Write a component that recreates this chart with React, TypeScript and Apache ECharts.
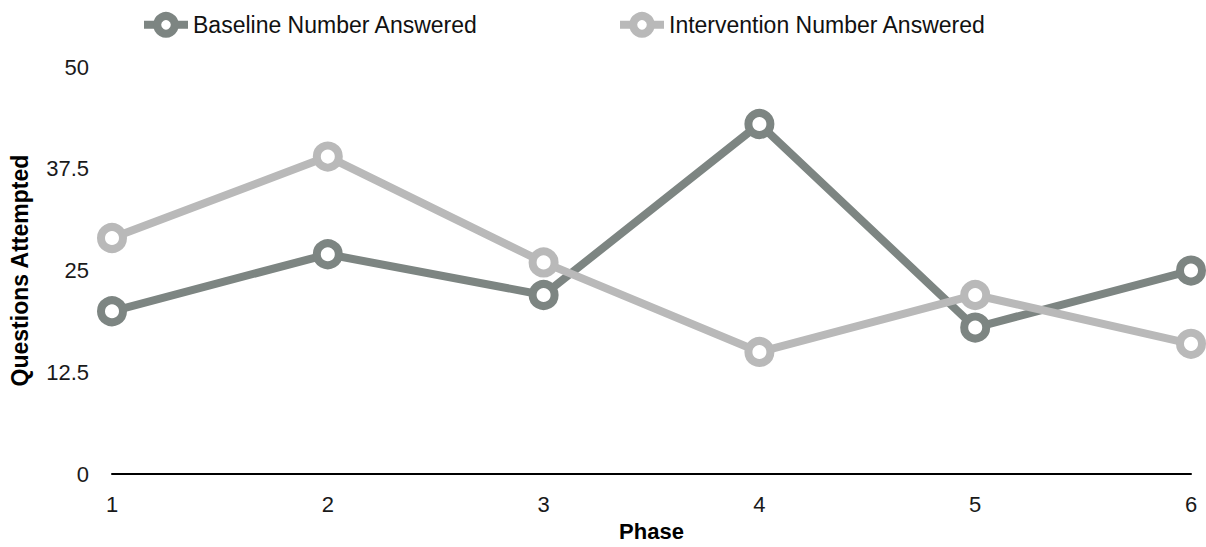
import React, { useEffect, useRef } from "react";
import * as echarts from "echarts";

const phases = ["1", "2", "3", "4", "5", "6"];
const baseline = [20, 27, 22, 43, 18, 25];
const intervention = [29, 39, 26, 15, 22, 16];
const seriesNames = ["Baseline Number Answered", "Intervention Number Answered"];
const colors = ["#7d8582", "#b9b9b9"];

export default function App() {
  const ref = useRef<HTMLDivElement>(null);
  useEffect(() => {
    if (!ref.current) return;
    const chart = echarts.init(ref.current, undefined, { renderer: "svg" });
    const font = "'Liberation Sans', Arial, Helvetica, sans-serif";
    const mk = (name: string, data: number[], color: string) => ({
      name,
      type: "line",
      data,
      symbol: "circle",
      symbolSize: 22,
      lineStyle: { color, width: 8 },
      itemStyle: { color: "#ffffff", borderColor: color, borderWidth: 8 },
      z: 3,
    });
    const legendBase = {
      top: 12,
      padding: 0,
      itemWidth: 44,
      itemHeight: 22,
      itemGap: 6,
      textStyle: { fontSize: 23, color: "#111", fontFamily: font },
    };
    chart.setOption({
      animation: false,
      textStyle: { fontFamily: font },
      legend: [
        {
          ...legendBase,
          data: [seriesNames[0]],
          left: 140,
          itemStyle: { color: "#ffffff", borderColor: colors[0], borderWidth: 8 },
          lineStyle: { color: colors[0], width: 8 },
        },
        {
          ...legendBase,
          data: [seriesNames[1]],
          left: 616,
          itemStyle: { color: "#ffffff", borderColor: colors[1], borderWidth: 8 },
          lineStyle: { color: colors[1], width: 8 },
        },
      ],
      grid: { left: 110, right: 15, top: 67, bottom: 64, containLabel: false },
      xAxis: {
        type: "category",
        data: phases,
        boundaryGap: false,
        name: "Phase",
        nameLocation: "middle",
        nameGap: 43,
        nameTextStyle: { fontSize: 22, fontWeight: "bold", color: "#000", fontFamily: font },
        axisLine: { lineStyle: { color: "#000", width: 2 } },
        axisTick: { show: false },
        axisLabel: { fontSize: 22, color: "#1a1a1a", margin: 19, fontFamily: font },
        splitLine: { show: false },
      },
      yAxis: {
        type: "value",
        min: 0,
        max: 50,
        interval: 12.5,
        name: "Questions Attempted",
        nameLocation: "middle",
        nameGap: 81,
        nameTextStyle: { fontSize: 23, fontWeight: "bold", color: "#000", fontFamily: font },
        axisLine: { show: false },
        axisTick: { show: false },
        axisLabel: { fontSize: 22, color: "#1a1a1a", margin: 23, fontFamily: font, padding: [4, 0, 0, 0] },
        splitLine: { show: false },
      },
      series: [
        mk(seriesNames[0], baseline, colors[0]),
        mk(seriesNames[1], intervention, colors[1]),
      ],
    });
    return () => chart.dispose();
  }, []);
  return <div ref={ref} style={{ width: 1206, height: 547, position: "absolute", left: 0, top: 0 }} />;
}
